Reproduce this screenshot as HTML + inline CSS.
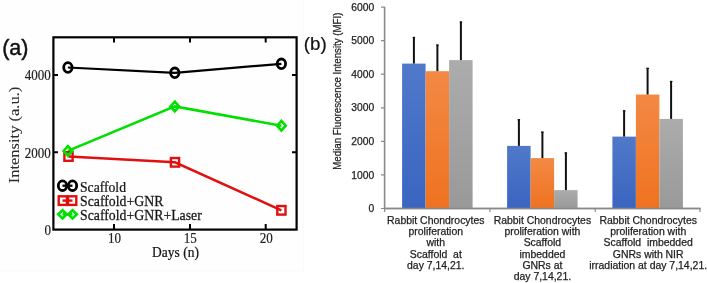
<!DOCTYPE html>
<html><head><meta charset="utf-8"><style>
html,body{margin:0;padding:0;background:#fff;width:707px;height:283px;overflow:hidden}
svg{display:block;will-change:transform}
</style></head><body>
<svg width="707" height="283" viewBox="0 0 707 283">
<defs>
<linearGradient id="gb" x1="0" y1="0" x2="0" y2="1" gradientUnits="objectBoundingBox"><stop offset="0" stop-color="#5079ca"/><stop offset="1" stop-color="#3a65c0"/></linearGradient>
<linearGradient id="go" x1="0" y1="0" x2="0" y2="1"><stop offset="0" stop-color="#f38944"/><stop offset="1" stop-color="#ef7220"/></linearGradient>
<linearGradient id="gg" x1="0" y1="0" x2="0" y2="1"><stop offset="0" stop-color="#acacac"/><stop offset="1" stop-color="#999999"/></linearGradient>
</defs>
<rect width="707" height="283" fill="#fff"/>
<rect x="-1" y="-1" width="304.5" height="272" fill="#fefefe" stroke="#fafafa" stroke-width="1"/>
<rect x="53.4" y="37.3" width="243.2" height="192.3" fill="none" stroke="#000" stroke-width="2.2"/>
<path d="M53.4 75.0 H58 M296.6 75.0 H292 M53.4 152.3 H58 M296.6 152.3 H292 M114.0 229.6 V224 M114.0 37.3 V42.5 M190.0 229.6 V224 M190.0 37.3 V42.5 M265.7 229.6 V224 M265.7 37.3 V42.5" stroke="#000" stroke-width="2"/>
<polyline points="67.9,67.5 174.8,72.8 281.4,63.8" fill="none" stroke="#000" stroke-width="2.2"/>
<polyline points="68.5,156.5 175.0,162.3 281.4,210.3" fill="none" stroke="#e01010" stroke-width="2.4"/>
<polyline points="67.9,150.9 174.8,106.4 281.4,125.7" fill="none" stroke="#00e000" stroke-width="2.6"/>
<ellipse cx="67.9" cy="67.5" rx="4.2" ry="4.8" fill="none" stroke="#000" stroke-width="2.8"/>
<ellipse cx="174.8" cy="72.8" rx="4.2" ry="4.8" fill="none" stroke="#000" stroke-width="2.8"/>
<ellipse cx="281.4" cy="63.8" rx="4.2" ry="4.8" fill="none" stroke="#000" stroke-width="2.8"/>
<rect x="64.4" y="152.2" width="8.2" height="8.6" fill="none" stroke="#e01010" stroke-width="2.4"/>
<rect x="170.9" y="158.0" width="8.2" height="8.6" fill="none" stroke="#e01010" stroke-width="2.4"/>
<rect x="277.3" y="206.0" width="8.2" height="8.6" fill="none" stroke="#e01010" stroke-width="2.4"/>
<polygon points="67.9,146.1 72.2,150.9 67.9,155.7 63.6,150.9" fill="none" stroke="#00e000" stroke-width="2.6" stroke-linejoin="miter"/>
<polygon points="174.8,101.6 179.1,106.4 174.8,111.2 170.5,106.4" fill="none" stroke="#00e000" stroke-width="2.6" stroke-linejoin="miter"/>
<polygon points="281.4,120.9 285.7,125.7 281.4,130.5 277.1,125.7" fill="none" stroke="#00e000" stroke-width="2.6" stroke-linejoin="miter"/>
<line x1="62.5" y1="185.7" x2="72.5" y2="185.7" stroke="#000" stroke-width="2.2"/><ellipse cx="62.5" cy="185.7" rx="4.2" ry="4.8" fill="none" stroke="#000" stroke-width="2.8"/><ellipse cx="72.5" cy="185.7" rx="4.2" ry="4.8" fill="none" stroke="#000" stroke-width="2.8"/>
<line x1="62.5" y1="200.6" x2="72.5" y2="200.6" stroke="#e01010" stroke-width="2.4"/><rect x="58.7" y="196.3" width="8.2" height="8.6" fill="none" stroke="#e01010" stroke-width="2.4"/><rect x="68.1" y="196.3" width="8.2" height="8.6" fill="none" stroke="#e01010" stroke-width="2.4"/>
<line x1="62.5" y1="214.3" x2="72.5" y2="214.3" stroke="#00e000" stroke-width="2.6"/><polygon points="62.5,210.2 66.8,214.3 62.5,218.4 58.2,214.3" fill="none" stroke="#00e000" stroke-width="2.6" stroke-linejoin="miter"/><polygon points="72.5,210.2 76.8,214.3 72.5,218.4 68.2,214.3" fill="none" stroke="#00e000" stroke-width="2.6" stroke-linejoin="miter"/>
<text transform="translate(50.8,80.4) scale(0.9,1)" font-family="Liberation Serif" fill="#222" stroke="#222" stroke-width="0.2" font-size="14.5" text-anchor="end">4000</text>
<text transform="translate(50.8,157.5) scale(0.9,1)" font-family="Liberation Serif" fill="#222" stroke="#222" stroke-width="0.2" font-size="14.5" text-anchor="end">2000</text>
<text transform="translate(51.1,234.8) scale(0.9,1)" font-family="Liberation Serif" fill="#222" stroke="#222" stroke-width="0.2" font-size="14.5" text-anchor="end">0</text>
<text transform="translate(114.4,243) scale(0.9,1)" font-family="Liberation Serif" fill="#222" stroke="#222" stroke-width="0.2" font-size="14.5" text-anchor="middle">10</text>
<text transform="translate(190.3,243) scale(0.9,1)" font-family="Liberation Serif" fill="#222" stroke="#222" stroke-width="0.2" font-size="14.5" text-anchor="middle">15</text>
<text transform="translate(266.3,243) scale(0.9,1)" font-family="Liberation Serif" fill="#222" stroke="#222" stroke-width="0.2" font-size="14.5" text-anchor="middle">20</text>
<text transform="translate(175.5,256.8) scale(0.9,1)" font-family="Liberation Serif" fill="#151515" stroke="#151515" stroke-width="0.25" font-size="15" text-anchor="middle">Days (n)</text>
<text transform="translate(80.0,192.3) scale(0.91,1)" font-family="Liberation Serif" fill="#151515" stroke="#151515" stroke-width="0.25" font-size="15" text-anchor="start">Scaffold</text>
<text transform="translate(80.0,205.8) scale(0.92,1)" font-family="Liberation Serif" fill="#151515" stroke="#151515" stroke-width="0.25" font-size="15" text-anchor="start">Scaffold+GNR</text>
<text transform="translate(80.0,219.6) scale(0.92,1)" font-family="Liberation Serif" fill="#151515" stroke="#151515" stroke-width="0.25" font-size="15" text-anchor="start">Scaffold+GNR+Laser</text>
<text transform="translate(19,135) rotate(-90) scale(1,0.88)" font-family="Liberation Serif" fill="#2a2a2a" stroke="#2a2a2a" stroke-width="0.1" font-size="16.5" text-anchor="middle">Intensity (a.u.)</text>
<text x="2.2" y="54.5" font-family="Liberation Sans" font-size="21.5" fill="#111" stroke="#111" stroke-width="0.45">(a)</text>
<text x="303.8" y="50" font-family="Liberation Sans" font-size="18.8" fill="#111" stroke="#111" stroke-width="0.2">(b)</text>
<text x="374.2" y="212.1" font-family="Liberation Sans" fill="#1e1e1e" stroke="#1e1e1e" stroke-width="0.25" font-size="10.3" text-anchor="end">0</text>
<text x="374.2" y="178.5" font-family="Liberation Sans" fill="#1e1e1e" stroke="#1e1e1e" stroke-width="0.25" font-size="10.3" text-anchor="end">1000</text>
<text x="374.2" y="145.0" font-family="Liberation Sans" fill="#1e1e1e" stroke="#1e1e1e" stroke-width="0.25" font-size="10.3" text-anchor="end">2000</text>
<text x="374.2" y="111.4" font-family="Liberation Sans" fill="#1e1e1e" stroke="#1e1e1e" stroke-width="0.25" font-size="10.3" text-anchor="end">3000</text>
<text x="374.2" y="77.8" font-family="Liberation Sans" fill="#1e1e1e" stroke="#1e1e1e" stroke-width="0.25" font-size="10.3" text-anchor="end">4000</text>
<text x="374.2" y="44.2" font-family="Liberation Sans" fill="#1e1e1e" stroke="#1e1e1e" stroke-width="0.25" font-size="10.3" text-anchor="end">5000</text>
<text x="374.2" y="10.7" font-family="Liberation Sans" fill="#1e1e1e" stroke="#1e1e1e" stroke-width="0.25" font-size="10.3" text-anchor="end">6000</text>
<path d="M381 208.5 H385 M381 174.9 H385 M381 141.4 H385 M381 107.8 H385 M381 74.2 H385 M381 40.6 H385 M381 7.1 H385 M384.6 208.5 V212 M489.9 208.5 V212 M595.2 208.5 V212 M700.0 208.5 V212" stroke="#8a8a8a" stroke-width="1.2"/>
<path d="M384.6 7 V208.5 M384 208.5 H700.5" stroke="#8a8a8a" stroke-width="1.6" fill="none"/>
<rect x="402.1" y="63.6" width="23.5" height="144.9" fill="url(#gb)"/>
<rect x="425.6" y="71.2" width="23.5" height="137.3" fill="url(#go)"/>
<rect x="449.1" y="60.1" width="23.5" height="148.4" fill="url(#gg)"/>
<path d="M413.9 63.6 V36.9" stroke="#111" stroke-width="2"/>
<path d="M412.7 37.5 H415.1" stroke="#111" stroke-width="1.2"/>
<path d="M437.4 71.2 V44.5" stroke="#111" stroke-width="2"/>
<path d="M436.2 45.1 H438.6" stroke="#111" stroke-width="1.2"/>
<path d="M460.9 60.1 V21.5" stroke="#111" stroke-width="2"/>
<path d="M459.7 22.1 H462.1" stroke="#111" stroke-width="1.2"/>
<rect x="507.1" y="145.9" width="23.5" height="62.6" fill="url(#gb)"/>
<rect x="530.6" y="158.1" width="23.5" height="50.4" fill="url(#go)"/>
<rect x="554.1" y="190.1" width="23.5" height="18.4" fill="url(#gg)"/>
<path d="M518.9 145.9 V119.2" stroke="#111" stroke-width="2"/>
<path d="M517.6 119.8 H520.1" stroke="#111" stroke-width="1.2"/>
<path d="M542.4 158.1 V131.6" stroke="#111" stroke-width="2"/>
<path d="M541.1 132.2 H543.6" stroke="#111" stroke-width="1.2"/>
<path d="M565.9 190.1 V152.4" stroke="#111" stroke-width="2"/>
<path d="M564.6 153.0 H567.1" stroke="#111" stroke-width="1.2"/>
<rect x="612.4" y="136.6" width="23.5" height="71.9" fill="url(#gb)"/>
<rect x="635.9" y="94.5" width="23.5" height="114.0" fill="url(#go)"/>
<rect x="659.4" y="118.9" width="23.5" height="89.6" fill="url(#gg)"/>
<path d="M624.1 136.6 V110.3" stroke="#111" stroke-width="2"/>
<path d="M622.9 110.89999999999999 H625.4" stroke="#111" stroke-width="1.2"/>
<path d="M647.6 94.5 V67.8" stroke="#111" stroke-width="2"/>
<path d="M646.4 68.39999999999999 H648.9" stroke="#111" stroke-width="1.2"/>
<path d="M671.1 118.9 V80.9" stroke="#111" stroke-width="2"/>
<path d="M669.9 81.5 H672.4" stroke="#111" stroke-width="1.2"/>
<path d="M384.6 208.5 H700.5" stroke="#8a8a8a" stroke-width="1.6"/>
<text transform="translate(340.9,91.15) rotate(-90) scale(0.915,1)" font-family="Liberation Sans" fill="#1e1e1e" stroke="#1e1e1e" stroke-width="0.25" font-size="10.6" text-anchor="middle">Median Fluorescence Intensity (MFI)</text>
<text x="435.8" y="223.6" font-family="Liberation Sans" fill="#1e1e1e" stroke="#1e1e1e" stroke-width="0.25" font-size="10.45" text-anchor="middle" xml:space="preserve">Rabbit Chondrocytes</text>
<text x="435.8" y="234.9" font-family="Liberation Sans" fill="#1e1e1e" stroke="#1e1e1e" stroke-width="0.25" font-size="10.45" text-anchor="middle" xml:space="preserve">proliferation</text>
<text x="435.8" y="246.3" font-family="Liberation Sans" fill="#1e1e1e" stroke="#1e1e1e" stroke-width="0.25" font-size="10.45" text-anchor="middle" xml:space="preserve">with</text>
<text x="435.8" y="257.6" font-family="Liberation Sans" fill="#1e1e1e" stroke="#1e1e1e" stroke-width="0.25" font-size="10.45" text-anchor="middle" xml:space="preserve">Scaffold  at</text>
<text x="435.8" y="269.0" font-family="Liberation Sans" fill="#1e1e1e" stroke="#1e1e1e" stroke-width="0.25" font-size="10.45" text-anchor="middle" xml:space="preserve">day 7,14,21.</text>
<text x="542.4" y="223.6" font-family="Liberation Sans" fill="#1e1e1e" stroke="#1e1e1e" stroke-width="0.25" font-size="10.45" text-anchor="middle" xml:space="preserve">Rabbit Chondrocytes</text>
<text x="542.4" y="234.9" font-family="Liberation Sans" fill="#1e1e1e" stroke="#1e1e1e" stroke-width="0.25" font-size="10.45" text-anchor="middle" xml:space="preserve">proliferation with</text>
<text x="542.4" y="246.3" font-family="Liberation Sans" fill="#1e1e1e" stroke="#1e1e1e" stroke-width="0.25" font-size="10.45" text-anchor="middle" xml:space="preserve">Scaffold</text>
<text x="542.4" y="257.6" font-family="Liberation Sans" fill="#1e1e1e" stroke="#1e1e1e" stroke-width="0.25" font-size="10.45" text-anchor="middle" xml:space="preserve">imbedded</text>
<text x="542.4" y="269.0" font-family="Liberation Sans" fill="#1e1e1e" stroke="#1e1e1e" stroke-width="0.25" font-size="10.45" text-anchor="middle" xml:space="preserve">GNRs at</text>
<text x="542.4" y="280.4" font-family="Liberation Sans" fill="#1e1e1e" stroke="#1e1e1e" stroke-width="0.25" font-size="10.45" text-anchor="middle" xml:space="preserve">day 7,14,21.</text>
<text x="648.2" y="223.6" font-family="Liberation Sans" fill="#1e1e1e" stroke="#1e1e1e" stroke-width="0.25" font-size="10.45" text-anchor="middle" xml:space="preserve">Rabbit Chondrocytes</text>
<text x="648.2" y="234.9" font-family="Liberation Sans" fill="#1e1e1e" stroke="#1e1e1e" stroke-width="0.25" font-size="10.45" text-anchor="middle" xml:space="preserve">proliferation with</text>
<text x="648.2" y="246.3" font-family="Liberation Sans" fill="#1e1e1e" stroke="#1e1e1e" stroke-width="0.25" font-size="10.45" text-anchor="middle" xml:space="preserve">Scaffold  imbedded</text>
<text x="648.2" y="257.6" font-family="Liberation Sans" fill="#1e1e1e" stroke="#1e1e1e" stroke-width="0.25" font-size="10.45" text-anchor="middle" xml:space="preserve">GNRs with NIR</text>
<text x="648.2" y="269.0" font-family="Liberation Sans" fill="#1e1e1e" stroke="#1e1e1e" stroke-width="0.25" font-size="10.45" text-anchor="middle" xml:space="preserve">irradiation at day 7,14,21.</text>
</svg>
</body></html>
